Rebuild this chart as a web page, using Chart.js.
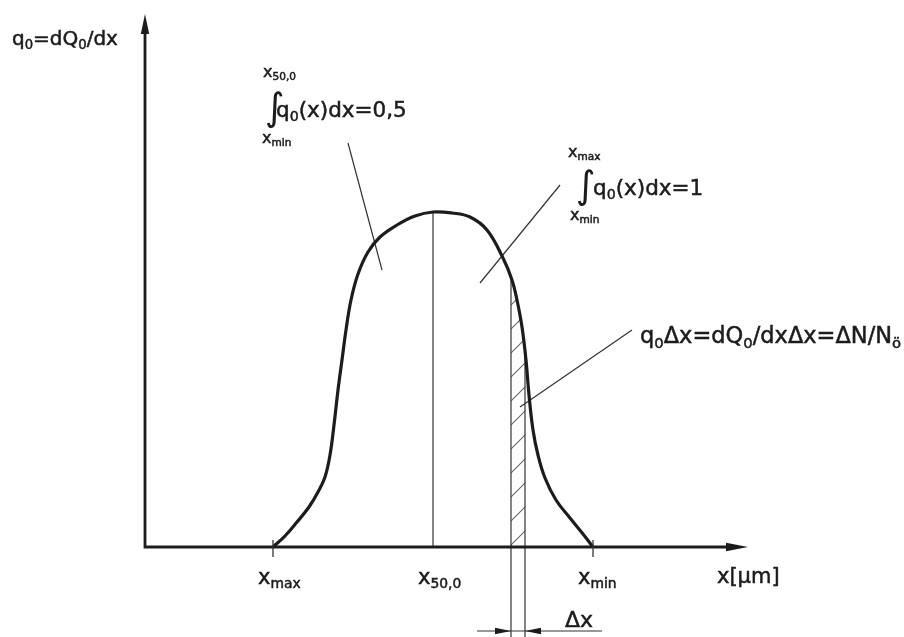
<!DOCTYPE html>
<html>
<head>
<meta charset="utf-8">
<script src="https://cdn.jsdelivr.net/npm/chart.js@4.4.1/dist/chart.umd.min.js"></script>
<style>
  html, body { margin: 0; padding: 0; background: #fff; }
  #wrap { width: 904px; height: 637px; }
</style>
</head>
<body>
<div id="wrap"><canvas id="diagram" width="904" height="637"></canvas></div>
<script>
// Density distribution q0(x), schematic units
const curveX = [25.6, 28, 30.4, 32.8, 34.6, 36, 37, 37.8, 38.6, 39.4, 40.2, 41.2, 42.6, 44.6, 47, 50.4, 54, 57.6, 61.4, 65,
  68.4, 71.6, 73.4, 74.4, 75.4, 76.2, 76.8, 77.6, 78.6, 80, 82.2, 85, 87.6, 89.6];
const curveY = [0, 2.2, 5, 8, 11, 14, 18.4, 24.4, 31.4, 37.4, 43.4, 49.4, 54.6, 59, 62, 64.4, 66.2, 67, 66.8, 66,
  63.4, 57.8, 53.4, 49.4, 44, 37.4, 30.4, 23.4, 18.4, 13.8, 9.4, 5.8, 2.6, 0];

// hatched class width Δx under the curve
const stripX = [73.2, 73.2, 74.4, 75.4, 76, 76];
const stripY = [0, 53.8, 49.4, 44, 39, 0];
const stripBottom = -18;      // extension lines run below the axis
const dimY = -16.8;           // Δx dimension line
const dimFrom = 66.4, dimTo = 91.4;

// median x50,0
const medianX = 57.6;
const medianTop = 67;

// x axis ticks
const tickValues = [25.6, 57.6, 89.6];
const tickMarks = [true, false, true];
const tickNames = ['max', '50,0', 'min'];

// axis extents
const xAxisEnd = 120.6;
const yAxisEnd = 106.6;

// leader lines: [x1, y1, x2, y2]
const leader1 = [40.6, 80.8, 47.4, 55.4];
const leader2 = [83, 72.4, 67, 52.8];
const leader3 = [97.4, 43.4, 75, 28];

const FONT = '"DejaVu Sans", "Liberation Sans", sans-serif';
const INK = '#1c1c1c';

function pts(xs, ys) { return xs.map((x, i) => ({ x: x, y: ys[i] })); }
function seg(a) { return [{ x: a[0], y: a[1] }, { x: a[2], y: a[3] }]; }

// diagonal hatch pattern
function hatchPattern() {
  const c = document.createElement('canvas');
  const s = 24;
  c.width = s; c.height = s;
  const g = c.getContext('2d');
  g.strokeStyle = '#666';
  g.lineWidth = 1.1;
  g.beginPath();
  g.moveTo(-2, s + 2); g.lineTo(s + 2, -2);
  g.moveTo(-2, 2); g.lineTo(2, -2);
  g.moveTo(s - 2, s + 2); g.lineTo(s + 2, s - 2);
  g.stroke();
  return g.createPattern(c, 'repeat');
}

// text with subscripts: parts = [[text, isSub], ...]
function drawRich(ctx, parts, x, y, size) {
  let cx = x;
  ctx.lineWidth = 0.5;
  ctx.strokeStyle = INK;
  parts.forEach(([txt, sub]) => {
    const s = sub ? size * 0.66 : size;
    const yy = y + (sub ? size * 0.2 : 0);
    ctx.font = `${s}px ${FONT}`;
    ctx.fillText(txt, cx, yy);
    ctx.strokeText(txt, cx, yy);
    cx += ctx.measureText(txt).width;
  });
  return cx - x;
}

function arrowHead(ctx, tx, ty, dx, dy, len, half) {
  // tip at (tx, ty), pointing along (dx, dy)
  const nx = -dy, ny = dx;
  ctx.beginPath();
  ctx.moveTo(tx, ty);
  ctx.lineTo(tx - dx * len + nx * half, ty - dy * len + ny * half);
  ctx.lineTo(tx - dx * len - nx * half, ty - dy * len - ny * half);
  ctx.closePath();
  ctx.fill();
}

const diagramPlugin = {
  id: 'diagram',
  afterDatasetsDraw(chart) {
    const ctx = chart.ctx;
    const xs = chart.scales.x, ys = chart.scales.y;
    const px = v => xs.getPixelForValue(v);
    const py = v => ys.getPixelForValue(v);
    ctx.save();
    ctx.fillStyle = INK;
    ctx.strokeStyle = INK;

    // axes
    const ox = px(0), oy = py(0);
    ctx.lineWidth = 2.8;
    ctx.beginPath();
    ctx.moveTo(ox, py(yAxisEnd) + 10);
    ctx.lineTo(ox, oy);
    ctx.lineTo(px(xAxisEnd) - 10, oy);
    ctx.stroke();
    arrowHead(ctx, ox, py(yAxisEnd), 0, -1, 20, 4.2);
    arrowHead(ctx, px(xAxisEnd), oy, 1, 0, 22, 4.2);

    // ticks + tick labels
    tickValues.forEach((v, i) => {
      const tx = px(v);
      if (tickMarks[i]) {
        ctx.lineWidth = 1.3;
        ctx.strokeStyle = '#333';
        ctx.beginPath();
        ctx.moveTo(tx, oy - 7);
        ctx.lineTo(tx, oy + 10);
        ctx.stroke();
      }
      drawRich(ctx, [['x', false], [tickNames[i], true]], tx - 15, oy + 37, 21);
    });

    // Δx dimension arrows
    ctx.fillStyle = INK;
    arrowHead(ctx, px(stripX[0]), py(dimY), 1, 0, 16, 3.2);
    arrowHead(ctx, px(stripX[stripX.length - 1]), py(dimY), -1, 0, 16, 3.2);

    // axis titles
    drawRich(ctx, [['q', false], ['0', true], ['=dQ', false], ['0', true], ['/dx', false]], 12, 45, 20);
    drawRich(ctx, [['x[µm]', false]], 717, 583, 21);
    drawRich(ctx, [['Δx', false]], 565, 627, 22);

    // integral annotations
    const integral = (ax, ay, upper, text, tOff, dUp, dLow) => {
      const x0 = px(ax), y0 = py(ay);
      drawRich(ctx, [['x', false], [upper, true]], x0 + dUp[0], y0 + dUp[1], 16);
      ctx.font = `38px ${FONT}`;
      ctx.fillText('∫', x0 - 2, y0 + 3);
      drawRich(ctx, text, x0 + tOff, y0, 21.5);
      drawRich(ctx, [['x', false], ['min', true]], x0 + dLow[0], y0 + dLow[1], 16);
    };
    integral(24.4, 86, '50,0', [['q', false], ['0', true], ['(x)dx=0,5', false]], 9, [-4, -40], [-5, 26]);
    integral(86.6, 70.4, 'max', [['q', false], ['0', true], ['(x)dx=1', false]], 15, [-10, -38], [-8, 25]);

    drawRich(ctx, [['q', false], ['0', true], ['Δx=dQ', false], ['0', true], ['/dxΔx=ΔN/N', false], ['ö', true]],
      px(99), py(40.8), 22.5);

    ctx.restore();
  }
};

const thin = { borderColor: '#333', borderWidth: 1.2, pointRadius: 0, fill: false, clip: false, tension: 0 };

new Chart(document.getElementById('diagram'), {
  type: 'line',
  data: {
    datasets: [
      { label: 'q0', data: pts(curveX, curveY), borderColor: INK, borderWidth: 3.2, pointRadius: 0,
        tension: 0.4, fill: false, clip: false },
      Object.assign({ label: 'median', data: [{ x: medianX, y: 0 }, { x: medianX, y: medianTop }] }, thin),
      Object.assign({ label: 'strip left', data: [{ x: stripX[0], y: stripBottom }, { x: stripX[0], y: stripY[1] }] }, thin),
      Object.assign({ label: 'strip right', data: [{ x: stripX[5], y: stripBottom }, { x: stripX[5], y: stripY[4] }] }, thin),
      Object.assign({ label: 'dimension', data: [{ x: dimFrom, y: dimY }, { x: dimTo, y: dimY }] }, thin),
      Object.assign({ label: 'leader 1', data: seg(leader1) }, thin),
      Object.assign({ label: 'leader 2', data: seg(leader2) }, thin),
      Object.assign({ label: 'leader 3', data: seg(leader3) }, thin),
      { label: 'Δx', data: pts(stripX, stripY), borderWidth: 0, pointRadius: 0, tension: 0,
        fill: 'origin', backgroundColor: hatchPattern(), clip: false }
    ]
  },
  options: {
    responsive: false,
    animation: false,
    layout: { padding: { left: 145, right: 159, top: 14, bottom: 90 } },
    plugins: { legend: { display: false }, tooltip: { enabled: false } },
    scales: {
      x: { type: 'linear', min: 0, max: 120, display: false },
      y: { type: 'linear', min: 0, max: yAxisEnd, display: false }
    }
  },
  plugins: [diagramPlugin]
});
</script>
</body>
</html>
